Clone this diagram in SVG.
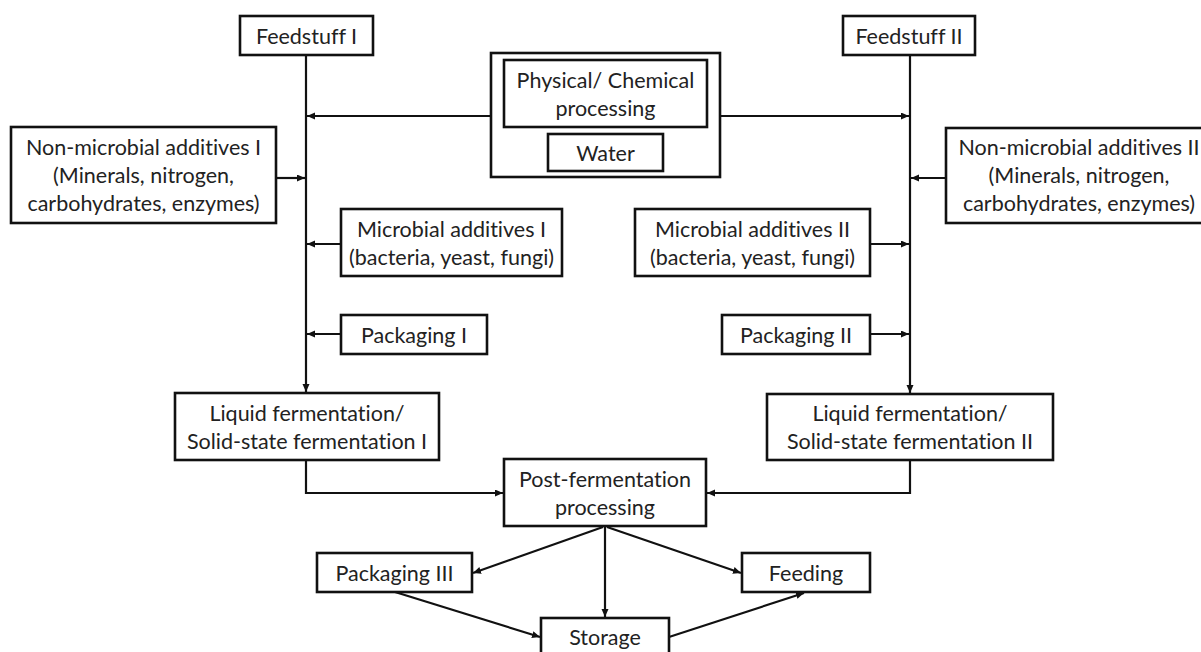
<svg xmlns="http://www.w3.org/2000/svg" width="1201" height="652" viewBox="0 0 1201 652">
<defs>
<style>
.box{fill:#fff;stroke:#111;stroke-width:2.6}
.t{font-family:Lato,"Liberation Sans",sans-serif;font-size:21.5px;fill:#222;text-anchor:middle;font-variant-ligatures:none;font-feature-settings:"liga" 0}
.c{fill:none;stroke:#111;stroke-width:2.2}
</style>
<marker id="ah" markerUnits="userSpaceOnUse" markerWidth="9" markerHeight="8" refX="8" refY="3.5" orient="auto">
<path d="M0,0 L8,3.5 L0,7 z" fill="#111"/>
</marker>
</defs>
<rect width="1201" height="652" fill="#fff"/>
<g id="connectors">
<line class="c" x1="306" y1="55" x2="306" y2="392" marker-end="url(#ah)"/>
<line class="c" x1="910" y1="55" x2="910" y2="393" marker-end="url(#ah)"/>
<line class="c" x1="491" y1="116" x2="307" y2="116" marker-end="url(#ah)"/>
<line class="c" x1="720" y1="116" x2="909" y2="116" marker-end="url(#ah)"/>
<line class="c" x1="276" y1="178" x2="305" y2="178" marker-end="url(#ah)"/>
<line class="c" x1="946" y1="178" x2="911" y2="178" marker-end="url(#ah)"/>
<line class="c" x1="341" y1="244" x2="307" y2="244" marker-end="url(#ah)"/>
<line class="c" x1="870" y1="244" x2="909" y2="244" marker-end="url(#ah)"/>
<line class="c" x1="341" y1="334" x2="307" y2="334" marker-end="url(#ah)"/>
<line class="c" x1="870" y1="334" x2="909" y2="334" marker-end="url(#ah)"/>
<polyline class="c" points="306,460 306,493 503,493" marker-end="url(#ah)"/>
<polyline class="c" points="910,460 910,493 707,493" marker-end="url(#ah)"/>
<line class="c" x1="603" y1="527" x2="473" y2="573" marker-end="url(#ah)"/>
<line class="c" x1="605" y1="527" x2="605" y2="617" marker-end="url(#ah)"/>
<line class="c" x1="607" y1="527" x2="741" y2="573" marker-end="url(#ah)"/>
<line class="c" x1="395" y1="592" x2="540" y2="637" marker-end="url(#ah)"/>
<line class="c" x1="669" y1="637" x2="804" y2="593" marker-end="url(#ah)"/>
</g>
<g id="feedstuff1"><rect class="box" x="240" y="16" width="133" height="39"/><text class="t" x="306.5" y="43.5">Feedstuff I</text></g>
<g id="feedstuff2"><rect class="box" x="843" y="16" width="132" height="39"/><text class="t" x="909" y="43.5">Feedstuff II</text></g>
<g id="processing"><rect class="box" x="491" y="53" width="229" height="124"/>
<rect class="box" x="504" y="60" width="203" height="67"/><text class="t" x="605.5" y="87.5">Physical/ Chemical</text><text class="t" x="605.5" y="115.5">processing</text>
<rect class="box" x="548" y="134" width="115" height="37"/><text class="t" x="605.5" y="160.5">Water</text></g>
<g id="nonmicrobial1"><rect class="box" x="11" y="127" width="265" height="96"/><text class="t" x="143.5" y="155">Non-microbial additives I</text><text class="t" x="143.5" y="183">(Minerals, nitrogen,</text><text class="t" x="143.5" y="211">carbohydrates, enzymes)</text></g>
<g id="nonmicrobial2"><rect class="box" x="946" y="128" width="266" height="95"/><text class="t" x="1079" y="155">Non-microbial additives II</text><text class="t" x="1079" y="183">(Minerals, nitrogen,</text><text class="t" x="1079" y="211">carbohydrates, enzymes)</text></g>
<g id="microbial1"><rect class="box" x="341" y="209" width="221" height="67"/><text class="t" x="451.5" y="236.5">Microbial additives I</text><text class="t" x="451.5" y="264.5">(bacteria, yeast, fungi)</text></g>
<g id="microbial2"><rect class="box" x="635" y="209" width="235" height="67"/><text class="t" x="752.5" y="236.5">Microbial additives II</text><text class="t" x="752.5" y="264.5">(bacteria, yeast, fungi)</text></g>
<g id="packaging1"><rect class="box" x="341" y="315" width="146" height="39"/><text class="t" x="414" y="342.5">Packaging I</text></g>
<g id="packaging2"><rect class="box" x="722" y="315" width="148" height="39"/><text class="t" x="796" y="342.5">Packaging II</text></g>
<g id="liquid1"><rect class="box" x="175" y="393" width="264" height="67"/><text class="t" x="307" y="420.5">Liquid fermentation/</text><text class="t" x="307" y="448.5">Solid-state fermentation I</text></g>
<g id="liquid2"><rect class="box" x="767" y="394" width="286" height="66"/><text class="t" x="910" y="421">Liquid fermentation/</text><text class="t" x="910" y="449">Solid-state fermentation II</text></g>
<g id="postferm"><rect class="box" x="504" y="459" width="202" height="67"/><text class="t" x="605" y="486.5">Post-fermentation</text><text class="t" x="605" y="514.5">processing</text></g>
<g id="packaging3"><rect class="box" x="317" y="553" width="155" height="39"/><text class="t" x="394.5" y="580.5">Packaging III</text></g>
<g id="feeding"><rect class="box" x="742" y="553" width="128" height="39"/><text class="t" x="806" y="580.5">Feeding</text></g>
<g id="storage"><rect class="box" x="541" y="618" width="128" height="40"/><text class="t" x="605" y="645">Storage</text></g>
</svg>
